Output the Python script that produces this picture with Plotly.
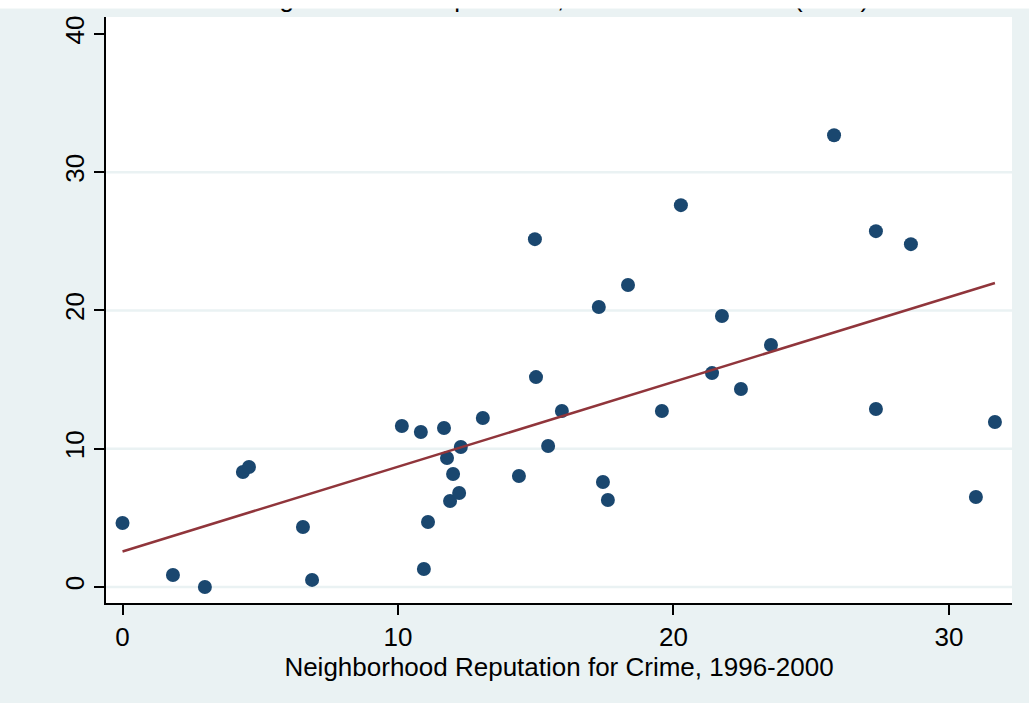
import numpy as np
import plotly.graph_objects as go

# Neighborhood reputation for crime (x) against outcome (y)
reputation = [0.0, 1.83, 2.99, 4.37, 4.59, 6.55, 6.88, 10.14, 10.83, 10.94,
              11.09, 11.67, 11.78, 11.89, 12.00, 12.22, 12.28, 13.08, 14.39, 14.97,
              15.01, 15.45, 15.95, 17.29, 17.44, 17.62, 18.35, 19.58, 20.27, 21.40,
              21.76, 22.45, 23.54, 25.83, 27.35, 27.35, 28.62, 30.98, 31.67]
outcome = [4.63, 0.87, 0.0, 8.32, 8.68, 4.34, 0.51, 11.64, 11.21, 1.30,
           4.70, 11.50, 9.33, 6.22, 8.17, 6.80, 10.12, 12.22, 8.03, 25.16,
           15.18, 10.20, 12.73, 20.25, 7.59, 6.29, 21.84, 12.73, 27.62, 15.47,
           19.60, 14.32, 17.50, 32.68, 25.74, 12.87, 24.80, 6.51, 11.93]

x_ticks = [0, 10, 20, 30]
y_ticks = [0, 10, 20, 30, 40]

x_title = "Neighborhood Reputation for Crime, 1996-2000"
top_title = "Average Crime Rate per 1000, All Crime Incidents (2002)"

BG = "#EAF2F3"
NAVY = "#1A476F"
MAROON = "#90353B"
FONT = "Arial, Liberation Sans, sans-serif"
FS = 26

# linear fit over the observed range
xs = np.array(reputation)
ys = np.array(outcome)
slope, intercept = np.polyfit(xs, ys, 1)
fit_x = np.array([xs.min(), xs.max()])
fit_y = intercept + slope * fit_x

fig = go.Figure()
fig.add_trace(go.Scatter(
    x=reputation, y=outcome, mode="markers",
    marker=dict(color=NAVY, size=14, line=dict(width=0)),
    showlegend=False, hoverinfo="x+y"))
fig.add_trace(go.Scatter(
    x=fit_x, y=fit_y, mode="lines",
    line=dict(color=MAROON, width=2.5),
    showlegend=False, hoverinfo="skip"))

# horizontal grid lines (none at the top label)
shapes = [dict(type="line", xref="paper", yref="y", x0=0, x1=1, y0=v, y1=v,
               line=dict(color=BG, width=2.5), layer="below")
          for v in y_ticks[:-1]]

annotations = [
    # title running off the top edge
    dict(text=top_title, xref="paper", yref="paper", x=0.48, y=1.0032,
         xanchor="center", yanchor="bottom", showarrow=False,
         font=dict(family=FONT, size=FS, color="black")),
    # white band along the very top edge, drawn over the title
    dict(text=" ", xref="paper", yref="paper", x=0.5, y=1.03,
         xanchor="center", yanchor="top", showarrow=False,
         width=1200, height=8, borderpad=0, bgcolor="white",
         font=dict(size=4)),
]

fig.update_layout(
    width=1029, height=703,
    margin=dict(l=106, r=17, t=17, b=100),
    paper_bgcolor=BG, plot_bgcolor="white",
    font=dict(family=FONT, size=FS, color="black"),
    shapes=shapes,
    annotations=annotations,
    xaxis=dict(range=[-0.6, 32.29], tickmode="array", tickvals=x_ticks,
               showgrid=False, zeroline=False, showline=True, linecolor="black",
               linewidth=1.5, ticks="outside", ticklen=10, tickwidth=1.5,
               tickcolor="black", tickfont=dict(size=FS),
               title=dict(text=x_title, font=dict(size=FS), standoff=2)),
    yaxis=dict(range=[-1.16, 41.23], tickmode="array", tickvals=y_ticks,
               showgrid=False, zeroline=False, showline=True, linecolor="black",
               linewidth=1.5, ticks="outside", ticklen=10, tickwidth=1.5,
               tickcolor="black", tickangle=-90, tickfont=dict(size=FS),
               ticklabelstandoff=0),
)

fig.write_html("out.html")
